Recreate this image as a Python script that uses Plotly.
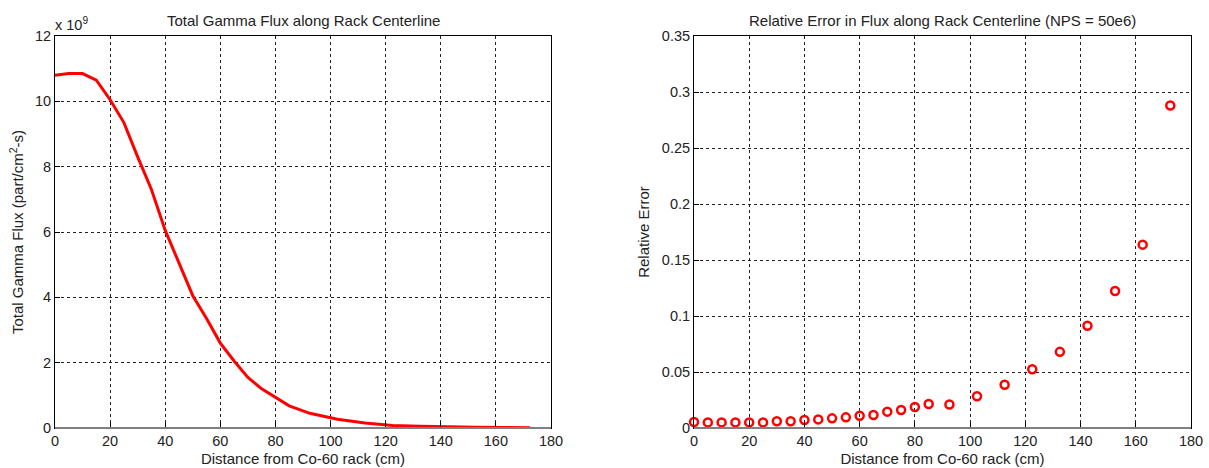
import plotly.graph_objects as go

# Data
distance = [0, 5, 10, 15, 20, 25, 30, 35, 40, 45, 50, 55, 60, 65, 70, 75, 80, 85,
            92.5, 102.5, 112.5, 122.5, 132.5, 142.5, 152.5, 162.5, 172.5]
flux_e9 = [10.8, 10.85, 10.85, 10.65, 10.05, 9.35, 8.3, 7.3, 6.05, 5.05, 4.05, 3.35,
           2.6, 2.05, 1.55, 1.2, 0.95, 0.68, 0.45, 0.27, 0.15, 0.08, 0.05, 0.03,
           0.02, 0.015, 0.01]
rel_error = [0.0053, 0.005, 0.005, 0.005, 0.005, 0.005, 0.006, 0.006, 0.0071, 0.0077,
             0.0086, 0.0095, 0.011, 0.0116, 0.0146, 0.016, 0.0188, 0.0214, 0.021,
             0.0283, 0.0386, 0.0525, 0.068, 0.0913, 0.1223, 0.1637, 0.288]
x_ticks = [0, 20, 40, 60, 80, 100, 120, 140, 160, 180]
left_y_ticks = [0, 2, 4, 6, 8, 10, 12]
right_y_ticks = [0, 0.05, 0.1, 0.15, 0.2, 0.25, 0.3, 0.35]

W, H = 1209, 468
FONT = "Liberation Sans, Arial, sans-serif"
TICK = 14.5
ATITLE = 15

def px(x):
    return x / W

def py(y):
    return 1 - y / H

fig = go.Figure()
fig.add_trace(go.Scatter(x=distance, y=flux_e9, mode="lines",
                         line=dict(color="#ff0000", width=3),
                         xaxis="x", yaxis="y", showlegend=False))
fig.add_trace(go.Scatter(x=distance, y=rel_error, mode="markers",
                         marker=dict(symbol="circle-open", color="#ff0000", size=8,
                                     line=dict(color="#ff0000", width=2.5)),
                         xaxis="x2", yaxis="y2", showlegend=False, cliponaxis=False))

axis_common = dict(
    showline=True, linecolor="black", linewidth=1, mirror=True,
    ticks="inside", ticklen=5, tickcolor="black", automargin=False,
    showgrid=True, gridcolor="#222222", gridwidth=1, griddash="3px,3px",
    zeroline=False, tickfont=dict(family=FONT, size=TICK, color="#222222"),
)

ydom = [py(428), py(36)]
fig.update_layout(
    width=W, height=H,
    margin=dict(l=0, r=0, t=0, b=0, autoexpand=False),
    paper_bgcolor="white", plot_bgcolor="white",
    font=dict(family=FONT, size=13, color="#222222"),
    xaxis=dict(domain=[px(55), px(551)], range=[0, 180], tickvals=x_ticks,
               anchor="y", title=dict(text="Distance from Co-60 rack (cm)", standoff=5,
                                      font=dict(size=ATITLE)), **axis_common),
    yaxis=dict(domain=ydom, range=[0, 12], tickvals=left_y_ticks, anchor="x",
               title=dict(text="Total Gamma Flux (part/cm<sup>2</sup>-s)", standoff=7,
                          font=dict(size=ATITLE)), **axis_common),
    xaxis2=dict(domain=[px(694), px(1191)], range=[0, 180], tickvals=x_ticks,
                anchor="y2", title=dict(text="Distance from Co-60 rack (cm)", standoff=5,
                                        font=dict(size=ATITLE)), **axis_common),
    yaxis2=dict(domain=ydom, range=[0, 0.35], tickvals=right_y_ticks, anchor="x2",
                tickformat="~g",
                title=dict(text="Relative Error", standoff=8, font=dict(size=ATITLE)),
                **axis_common),
    shapes=[
        dict(type="line", xref="paper", yref="paper", x0=px(55), x1=px(551),
             y0=py(428), y1=py(428), line=dict(color="#808080", width=2)),
        dict(type="line", xref="paper", yref="paper", x0=px(694), x1=px(1191),
             y0=py(428), y1=py(428), line=dict(color="#808080", width=2)),
    ],
    annotations=[
        dict(text="Total Gamma Flux along Rack Centerline", x=px(303), y=py(21),
             xref="paper", yref="paper", showarrow=False, xanchor="center",
             yanchor="middle", font=dict(size=15)),
        dict(text="Relative Error in Flux along Rack Centerline (NPS = 50e6)",
             x=px(942), y=py(21), xref="paper", yref="paper", showarrow=False,
             xanchor="center", yanchor="middle", font=dict(size=15)),
        dict(text="x 10<sup>9</sup>", x=px(53), y=py(24), xref="paper", yref="paper",
             showarrow=False, xanchor="left", yanchor="middle",
             font=dict(size=TICK)),
    ],
)

fig.write_html("out.html")
